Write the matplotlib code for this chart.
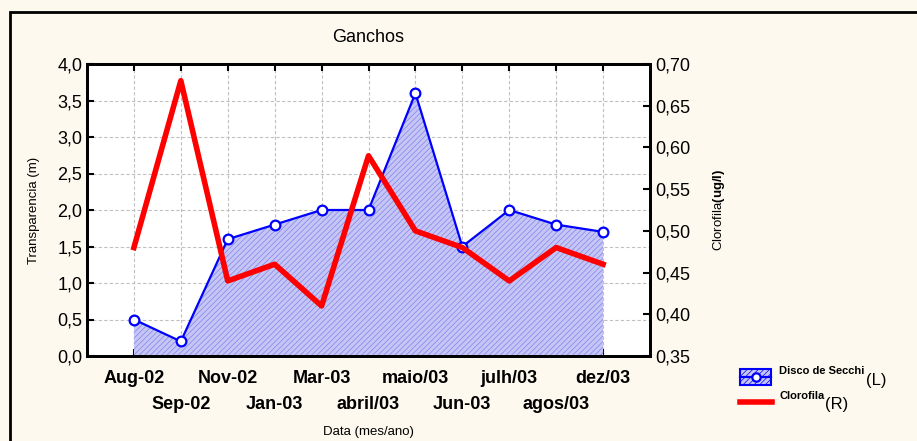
import matplotlib
matplotlib.use("Agg")
import matplotlib.pyplot as plt
from matplotlib.patches import Rectangle
from matplotlib.lines import Line2D
import numpy as np

plt.rcParams['font.family'] = ['Liberation Sans', 'DejaVu Sans']
plt.rcParams['mathtext.fontset'] = 'custom'
plt.rcParams['mathtext.rm'] = 'Liberation Sans'
plt.rcParams['mathtext.bf'] = 'Liberation Sans:bold'
plt.rcParams['hatch.color'] = '#8282ee'
plt.rcParams['hatch.linewidth'] = 0.5

months = ["Aug-02", "Sep-02", "Nov-02", "Jan-03", "Mar-03", "abril/03",
          "maio/03", "Jun-03", "julh/03", "agos/03", "dez/03"]
secchi = [0.5, 0.2, 1.6, 1.8, 2.0, 2.0, 3.6, 1.5, 2.0, 1.8, 1.7]
clorofila = [0.48, 0.68, 0.44, 0.46, 0.41, 0.59, 0.50, 0.48, 0.44, 0.48, 0.46]
left_ticks = [0.0, 0.5, 1.0, 1.5, 2.0, 2.5, 3.0, 3.5, 4.0]
right_ticks = [0.35, 0.40, 0.45, 0.50, 0.55, 0.60, 0.65, 0.70]

bg = '#fdf9ee'
fig = plt.figure(figsize=(9.17, 4.41), dpi=100, facecolor=bg)
fig.patches.append(Rectangle((10/917, -0.1), 1.2, (441-12)/441 + 0.1, transform=fig.transFigure,
                             fill=False, edgecolor='black', linewidth=2, zorder=0))

ax = fig.add_axes([87/917, (441-356)/441, (650-87)/917, (356-64)/441])
ax.set_facecolor('white')
x = np.arange(len(months))

ax.fill_between(x, 0, secchi, facecolor='#c6c6f5', edgecolor='#8282ee', hatch='//////', linewidth=0, zorder=1)
ax.plot(x, secchi, color='#0000ff', linewidth=1.6, marker='o', markersize=7,
        markerfacecolor='white', markeredgecolor='#0000ff', markeredgewidth=1.6, zorder=3)
ax.set_xlim(-1, 11)
ax.set_ylim(0, 4)
ax.set_yticks(left_ticks)
ax.set_yticklabels([f"{v:.1f}".replace('.', ',') for v in left_ticks], fontsize=13)

even = x[::2]
odd = x[1::2]
ax.set_xticks(even)
ax.set_xticklabels(months[::2], fontsize=13, fontweight='bold')
ax.set_xticks(odd, minor=True)
ax.set_xticklabels(months[1::2], minor=True, fontsize=13, fontweight='bold')
ax.grid(True, which='both', axis='x', linestyle=(0, (3, 2)), color='#c0c0c0', linewidth=0.8, zorder=0)
ax.grid(True, which='major', axis='y', linestyle=(0, (3, 2)), color='#c0c0c0', linewidth=0.8, zorder=0)
ax.set_axisbelow(True)
ax.tick_params(axis='both', which='both', direction='in', length=5, width=1.5, top=True)
ax.tick_params(axis='x', which='major', pad=10)
ax.tick_params(axis='x', which='minor', pad=28.5)
for s in ax.spines.values():
    s.set_linewidth(2)
ax.set_ylabel("Transparencia (m)", fontsize=9.5, labelpad=12)
ax.set_xlabel("Data (mes/ano)", fontsize=9.5, labelpad=10)
ax.set_title("Ganchos", fontsize=13, pad=16)

ax2 = ax.twinx()
ax2.plot(x, clorofila, color='#ff0000', linewidth=4, zorder=4)
ax2.set_ylim(0.35, 0.70)
ax2.set_yticks(right_ticks)
ax2.set_yticklabels([f"{v:.2f}".replace('.', ',') for v in right_ticks], fontsize=13)
ax2.tick_params(axis='y', direction='in', length=5, width=1.5)
ax2.set_ylabel("Clorofila$\\mathbf{(ug/l)}$", fontsize=9.5, labelpad=15)
for s in ax2.spines.values():
    s.set_linewidth(2)

# legend
fig.patches.append(Rectangle((740/917, (441-385)/441), 31/917, 16/441, transform=fig.transFigure,
                             facecolor='#c6c6f5', edgecolor='#0000ff', linewidth=1.5, hatch='//////'))
fig.lines.append(Line2D([740/917, 771/917], [(441-377)/441]*2, transform=fig.transFigure,
                        color='#0000ff', linewidth=1.6))
fig.lines.append(Line2D([755.5/917], [(441-377)/441], transform=fig.transFigure,
                        color='#0000ff', marker='o', markersize=6, markerfacecolor='white',
                        markeredgewidth=1.6, linestyle='none'))
fig.lines.append(Line2D([740/917, 772/917], [(441-402)/441]*2, transform=fig.transFigure,
                        color='#ff0000', linewidth=4))
fig.text(779/917, (441-371)/441, "Disco de Secchi", fontsize=8, fontweight='bold', va='center')
fig.text(866/917, (441-380)/441, "(L)", fontsize=12, va='center')
fig.text(779/917, (441-396)/441, "Clorofila", fontsize=8, fontweight='bold', va='center')
fig.text(825/917, (441-405)/441, "(R)", fontsize=12, va='center')

fig.savefig("out.png", dpi=100, facecolor=bg)
